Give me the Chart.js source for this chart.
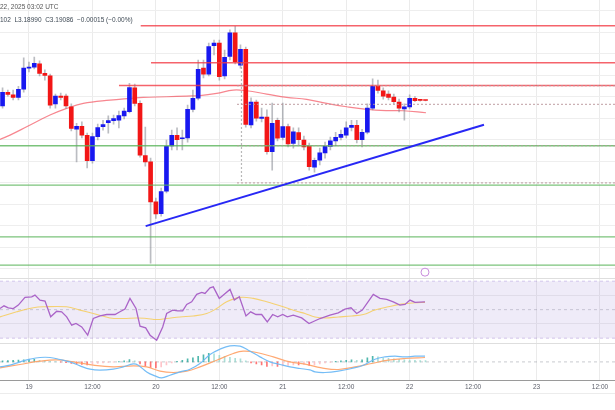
<!DOCTYPE html>
<html>
<head>
<meta charset="utf-8">
<title>XRP/USD 1h</title>
<style>
  html, body { margin: 0; padding: 0; background: #ffffff; }
  .wrap { position: relative; width: 615px; height: 410px; overflow: hidden; font-family: 'Liberation Sans', Arial, sans-serif; }
  .plot { position: absolute; left: 0; top: 0; width: 615px; height: 410px; }
  .legend { position: absolute; left: 0; font-size: 6.5px; color: #555; white-space: nowrap; }
  .time { top: 3px; }
  .ohlc { top: 16px; color: #3f4a55; }
  .bottom-rule { position: absolute; left: 0; right: 0; top: 393px; height: 1px; background: #ececec; }
</style>
<script src="https://cdn.jsdelivr.net/npm/chart.js"></script>
</head>
<body>
<div class="wrap">
  <div class="plot"><canvas id="chart"></canvas></div>
  <div class="legend time">22, 2025 03:02 UTC</div>
  <div class="legend ohlc">102 &nbsp;L3.18990 &nbsp;C3.19086 &nbsp;−0.00015 (−0.00%)</div>
  <div class="bottom-rule"></div>
</div>
<script>
// hourly candles, x = hours since 19 Jan 00:00
const FIRST_HOUR = -6;
const candleOpen = [
  3.153, 3.178, 3.210, 3.204, 3.198, 3.217, 3.266, 3.268, 3.276, 3.254,
  3.248, 3.183, 3.201, 3.201, 3.176, 3.124, 3.131, 3.110, 3.051, 3.107,
  3.130, 3.139, 3.144, 3.145, 3.155, 3.165, 3.220, 3.184, 3.063, 3.048,
  2.955, 2.928, 2.980, 3.085, 3.110, 3.102, 3.104, 3.170, 3.196, 3.266,
  3.252, 3.318, 3.324, 3.248, 3.293, 3.348, 3.273, 3.310, 3.134, 3.187,
  3.149, 3.152, 3.072, 3.145, 3.105, 3.130, 3.091, 3.116, 3.099, 3.085,
  3.036, 3.052, 3.069, 3.084, 3.097, 3.105, 3.110, 3.128, 3.133, 3.100,
  3.117, 3.173, 3.224, 3.213, 3.206, 3.199, 3.187, 3.171, 3.176, 3.196,
  3.1912, 3.19101
];
const candleHigh = [
  3.194, 3.220, 3.215, 3.215, 3.224, 3.290, 3.280, 3.292, 3.283, 3.262,
  3.252, 3.206, 3.208, 3.206, 3.183, 3.138, 3.141, 3.115, 3.115, 3.136,
  3.145, 3.155, 3.157, 3.166, 3.173, 3.231, 3.229, 3.190, 3.129, 3.057,
  2.964, 2.987, 3.099, 3.122, 3.127, 3.122, 3.180, 3.215, 3.285, 3.285,
  3.324, 3.331, 3.331, 3.308, 3.355, 3.363, 3.320, 3.315, 3.197, 3.192,
  3.173, 3.169, 3.185, 3.150, 3.185, 3.136, 3.127, 3.127, 3.108, 3.092,
  3.057, 3.080, 3.094, 3.106, 3.117, 3.122, 3.141, 3.145, 3.145, 3.124,
  3.183, 3.241, 3.238, 3.220, 3.213, 3.206, 3.194, 3.183, 3.204, 3.200,
  3.193, 3.19102
];
const candleLow = [
  3.145, 3.173, 3.201, 3.192, 3.192, 3.210, 3.257, 3.264, 3.248, 3.238,
  3.173, 3.173, 3.192, 3.173, 3.120, 3.048, 3.104, 3.034, 3.045, 3.099,
  3.122, 3.115, 3.136, 3.127, 3.148, 3.162, 3.178, 3.059, 3.038, 2.813,
  2.917, 2.922, 2.976, 3.076, 3.076, 3.076, 3.094, 3.164, 3.192, 3.243,
  3.248, 3.297, 3.238, 3.241, 3.285, 3.276, 3.266, 3.129, 3.127, 3.143,
  3.141, 3.066, 3.029, 3.097, 3.099, 3.083, 3.080, 3.087, 3.076, 3.029,
  3.024, 3.041, 3.057, 3.076, 3.085, 3.099, 3.104, 3.120, 3.092, 3.083,
  3.113, 3.169, 3.208, 3.194, 3.192, 3.183, 3.164, 3.145, 3.171, 3.188,
  3.1895, 3.18990
];
const candleClose = [
  3.188, 3.210, 3.205, 3.198, 3.217, 3.266, 3.267, 3.277, 3.254, 3.249,
  3.180, 3.201, 3.198, 3.178, 3.126, 3.131, 3.110, 3.051, 3.107, 3.128,
  3.135, 3.144, 3.149, 3.156, 3.166, 3.221, 3.184, 3.064, 3.048, 2.955,
  2.927, 2.979, 3.084, 3.110, 3.100, 3.104, 3.170, 3.196, 3.263, 3.252,
  3.316, 3.324, 3.246, 3.291, 3.348, 3.281, 3.310, 3.135, 3.187, 3.150,
  3.152, 3.072, 3.138, 3.103, 3.130, 3.090, 3.118, 3.100, 3.083, 3.037,
  3.052, 3.069, 3.084, 3.097, 3.105, 3.112, 3.127, 3.133, 3.100, 3.117,
  3.173, 3.224, 3.214, 3.201, 3.198, 3.188, 3.173, 3.176, 3.196, 3.1905,
  3.1910, 3.19086
];

const xTickHours = [0, 12, 24, 36, 48, 60, 72, 84, 96, 108];
const xTickLabels = ['19', '12:00', '20', '12:00', '21', '12:00', '22', '12:00', '23', '12:00'];
const priceTicks = [2.80, 2.85, 2.90, 2.95, 3.00, 3.05, 3.10, 3.15, 3.20, 3.25, 3.30, 3.35, 3.40];
const rsiTicks = [40, 60];

// moving average on price [hour, price]
const maPoints = [
  [-5.49, 3.1004], [-3.59, 3.1104], [-0.44, 3.1297], [3.97, 3.1570], [7.13, 3.1725],
  [10.27, 3.1842], [15.32, 3.1918], [19.1, 3.1958], [21.62, 3.1981], [26.04, 3.1995],
  [29.83, 3.2011], [32.34, 3.2023], [35.5, 3.2074], [38.64, 3.2151], [41.18, 3.2135],
  [44.96, 3.2058], [48.74, 3.1981], [52.52, 3.1935], [56.31, 3.1842], [60.09, 3.1763],
  [63.87, 3.1702], [67.66, 3.1674], [70.8, 3.1670], [75.09, 3.1623]
];

// drawn levels
const resistLevels = [3.3646, 3.2786, 3.2256];
const resistStart = [21.13, 23.08, 17.02];
const supportLevels = [3.0856, 2.9942, 2.8739, 2.8081];
const trendPoints = [[22.07, 2.8988], [86.06, 3.1344]];
const rangeLevels = [3.2251, 3.1818, 3.0856, 2.9995];
const rangeStart = 39.34;
const rangeVertical = [[40.19, 3.2779], [40.19, 2.9988]];
const ideaMark = [74.9, 2.7918];

// RSI [hour, value]
const rsiPoints = [
  [-5.49, 50.8], [-4.73, 52.7], [-3.92, 51.3], [-2.97, 50.8], [-2.02, 53.2], [-0.76, 58.6],
  [0.51, 59.0], [1.13, 60.2], [2.08, 56.7], [3.03, 56.0], [4.1, 45.0], [5.24, 48.9],
  [6.18, 48.5], [7.13, 45.0], [8.08, 39.1], [8.89, 40.3], [9.97, 37.9], [11.1, 32.1],
  [12.16, 43.8], [13.43, 45.6], [14.7, 46.6], [16.27, 46.6], [17.2, 48.5], [18.16, 50.4],
  [19.1, 57.9], [20.24, 50.8], [21.0, 38.4], [22.07, 37.2], [22.9, 32.1], [24.15, 28.6],
  [25.29, 37.9], [26.04, 47.3], [27.18, 49.7], [28.13, 49.2], [29.07, 49.2], [29.83, 53.7],
  [30.77, 55.5], [31.72, 60.7], [32.67, 62.1], [33.29, 61.4], [34.24, 65.3], [34.86, 66.0],
  [35.99, 57.9], [36.88, 60.7], [38.02, 64.2], [38.83, 56.7], [39.78, 59.0], [41.04, 45.6],
  [41.93, 48.5], [42.94, 46.6], [44.01, 46.6], [45.07, 41.4], [46.09, 46.6], [47.04, 45.0],
  [47.99, 46.6], [48.86, 45.0], [49.99, 46.1], [51.58, 44.2], [52.96, 40.3], [55.04, 43.8],
  [56.93, 46.1], [58.5, 47.8], [59.77, 50.4], [60.9, 51.3], [61.98, 47.3], [63.04, 49.7],
  [65.12, 60.7], [66.39, 57.9], [67.66, 57.2], [68.9, 55.5], [70.17, 53.2], [71.12, 53.7],
  [72.06, 56.7], [73.0, 55.1], [74.9, 55.5]
];
const rsiMaPoints = [
  [-5.49, 44.9], [-2.33, 48.5], [0.81, 51.3], [2.7, 52.0], [7.13, 52.0], [9.65, 49.7],
  [12.16, 47.3], [15.32, 44.2], [17.84, 43.8], [20.37, 44.2], [22.26, 43.8], [24.15, 43.1],
  [26.04, 43.8], [28.56, 44.9], [31.08, 45.6], [33.61, 47.3], [35.5, 50.8], [37.39, 55.5],
  [39.91, 58.6], [42.43, 57.9], [44.96, 55.5], [48.1, 52.0], [50.63, 48.9], [52.2, 47.3],
  [54.1, 44.9], [55.99, 44.2], [58.5, 44.9], [61.04, 45.6], [63.23, 46.6], [65.44, 49.7],
  [67.96, 52.0], [70.49, 53.9], [73.0, 54.8], [74.9, 55.1]
];

// MACD [hour, value]
const macdPoints = [
  [-5.49, -0.0050], [-3.59, -0.0033], [-1.70, 0.0000], [0.19, 0.0027], [2.08, 0.0044],
  [3.97, 0.0044], [5.86, 0.0024], [7.75, 0.0000], [9.65, -0.0040], [11.54, -0.0073],
  [13.43, -0.0083], [15.94, -0.0073], [17.84, -0.0050], [19.73, -0.0020], [20.67, -0.0033],
  [22.26, -0.0100], [23.83, -0.0140], [25.10, -0.0160], [26.67, -0.0133], [28.56, -0.0100],
  [30.45, -0.0073], [32.34, -0.0016], [34.24, 0.0074], [36.13, 0.0127], [38.02, 0.0160],
  [39.91, 0.0157], [41.48, 0.0117], [43.69, 0.0050], [45.58, 0.0000], [47.47, -0.0026],
  [49.37, -0.0050], [51.26, -0.0066], [53.15, -0.0080], [54.10, -0.0100], [55.99, -0.0106],
  [58.50, -0.0093], [61.04, -0.0066], [63.23, -0.0033], [65.44, 0.0027], [67.33, 0.0050],
  [69.23, 0.0057], [71.12, 0.0050], [73.01, 0.0057], [74.90, 0.0057]
];
const signalPoints = [
  [-5.49, -0.0060], [-1.70, -0.0026], [2.08, 0.0007], [5.24, 0.0020], [8.38, 0.0000],
  [12.16, -0.0033], [15.94, -0.0050], [19.73, -0.0040], [22.26, -0.0050], [24.78, -0.0093],
  [27.29, -0.0106], [29.83, -0.0093], [32.34, -0.0050], [35.50, 0.0017], [38.64, 0.0084],
  [40.53, 0.0107], [43.07, 0.0094], [46.21, 0.0050], [49.37, 0.0000], [52.20, -0.0023],
  [55.36, -0.0060], [58.50, -0.0076], [61.66, -0.0050], [64.82, -0.0016], [67.96, 0.0017],
  [71.12, 0.0034], [74.90, 0.0044]
];
const HIST_FIRST_HOUR = -5;
const histValues = [
  0.0010, 0.0012, 0.0015, 0.0018, 0.0020, 0.0022, 0.0025, 0.0015, 0.0010, 0.0005,
  0.0003, -0.0003, -0.0008, -0.0015, -0.0020, -0.0025, -0.0030, -0.0020, -0.0015, -0.0010,
  -0.0006, -0.0002, 0.0004, 0.0010, 0.0022, 0.0010, -0.0020, -0.0040, -0.0055, -0.0060,
  -0.0050, -0.0030, -0.0010, 0.0005, 0.0015, 0.0030, 0.0040, 0.0055, 0.0070, 0.0085,
  0.0080, 0.0065, 0.0055, 0.0045, 0.0035, 0.0030, 0.0010, -0.0010, -0.0020, -0.0030,
  -0.0045, -0.0040, -0.0045, -0.0040, -0.0035, -0.0030, -0.0030, -0.0025, -0.0035, -0.0030,
  -0.0020, -0.0010, -0.0005, 0.0005, 0.0010, 0.0015, 0.0020, 0.0015, 0.0020, 0.0040,
  0.0055, 0.0050, 0.0040, 0.0035, 0.0030, 0.0025, 0.0020, 0.0018, 0.0015, 0.0014,
  0.0013
];

// visible window of each pane
const X_MIN = -5.485, X_MAX = 110.84;
const PRICE_MIN = 2.7779, PRICE_MAX = 3.4244;
const RSI_MIN = 26.5, RSI_MAX = 72.1;
const MACD_MIN = -0.0183, MACD_MAX = 0.0187;

const BLUE = 'rgb(24,24,240)';
const RED = 'rgb(242,22,22)';
const FONT = "'Liberation Sans', Arial, sans-serif";

const pts = arr => arr.map(([x, y]) => ({x, y}));
const hline = (y, x0, x1) => [{x: x0, y}, {x: x1, y}];
const simpleLine = (data, color, width, extra) => Object.assign({
  type: 'line', data, borderColor: color, borderWidth: width,
  pointRadius: 0, fill: false, yAxisID: 'y'
}, extra || {});

const datasets = [];

// price pane
datasets.push(simpleLine(pts(maPoints), 'rgba(242,54,69,0.6)', 1.2, {tension: 0.4, order: 6}));
datasets.push({
  type: 'bar', yAxisID: 'y', order: 5, grouped: false, barThickness: 1,
  backgroundColor: 'rgba(120,123,134,0.5)',
  data: candleHigh.map((hi, i) => ({x: FIRST_HOUR + i, y: [candleLow[i], hi]}))
});
datasets.push({
  type: 'bar', yAxisID: 'y', order: 4, grouped: false, barThickness: 4, minBarLength: 1,
  backgroundColor: candleClose.map((c, i) => c >= candleOpen[i] ? BLUE : RED),
  data: candleOpen.map((o, i) => ({x: FIRST_HOUR + i, y: [o, candleClose[i]]}))
});
supportLevels.forEach(v => datasets.push(simpleLine(hline(v, X_MIN, X_MAX), 'rgba(90,180,90,0.8)', 1.4, {order: 3})));
resistLevels.forEach((v, i) => datasets.push(simpleLine(hline(v, resistStart[i], X_MAX), 'rgba(242,60,70,0.8)', 1.6, {order: 3})));
rangeLevels.forEach(v => datasets.push(simpleLine(hline(v, rangeStart, X_MAX), 'rgba(185,150,155,0.75)', 1.2, {borderDash: [2, 2], order: 2})));
datasets.push(simpleLine(pts(rangeVertical), 'rgba(160,160,160,0.75)', 1.2, {borderDash: [2, 2], order: 2}));
datasets.push(simpleLine(pts(trendPoints), 'rgb(40,40,245)', 2, {order: 1}));
datasets.push(simpleLine([{x: ideaMark[0], y: ideaMark[1]}], 'rgb(200,140,220)', 1, {
  showLine: false, pointRadius: 4, pointBorderWidth: 1, pointBackgroundColor: '#ffffff', order: 1
}));

// RSI pane
datasets.push(simpleLine(hline(70, X_MIN, X_MAX), 'rgba(126,87,194,0.3)', 1, {
  yAxisID: 'yRsi', borderDash: [3, 3], fill: '+1', backgroundColor: 'rgba(126,87,194,0.12)', order: 9
}));
datasets.push(simpleLine(hline(30, X_MIN, X_MAX), 'rgba(126,87,194,0.3)', 1, {yAxisID: 'yRsi', borderDash: [3, 3], order: 9}));
datasets.push(simpleLine(hline(50, X_MIN, X_MAX), 'rgba(120,123,134,0.35)', 1, {yAxisID: 'yRsi', borderDash: [3, 3], order: 9}));
datasets.push(simpleLine(pts(rsiMaPoints), 'rgba(246,205,90,0.85)', 1.1, {yAxisID: 'yRsi', tension: 0.4, order: 8}));
datasets.push(simpleLine(pts(rsiPoints), 'rgb(170,100,200)', 1.3, {yAxisID: 'yRsi', order: 7}));

// MACD pane
datasets.push(simpleLine(hline(0, X_MIN, X_MAX), 'rgba(120,123,134,0.4)', 1, {yAxisID: 'yMacd', borderDash: [3, 3], order: 9}));
datasets.push({
  type: 'bar', yAxisID: 'yMacd', order: 8, grouped: false, barThickness: 1,
  backgroundColor: histValues.map((v, i) => {
    const prev = i ? histValues[i - 1] : v;
    if (v >= 0) return v >= prev ? 'rgba(38,166,154,0.8)' : 'rgba(150,215,205,0.8)';
    return v <= prev ? 'rgba(255,82,82,0.8)' : 'rgba(255,190,195,0.9)';
  }),
  data: histValues.map((v, i) => ({x: HIST_FIRST_HOUR + i, y: v}))
});
datasets.push(simpleLine(pts(signalPoints), 'rgba(255,160,100,0.9)', 1.2, {yAxisID: 'yMacd', tension: 0.4, order: 7}));
datasets.push(simpleLine(pts(macdPoints), 'rgba(110,185,245,0.95)', 1.2, {yAxisID: 'yMacd', tension: 0.4, order: 6}));

const paneAxis = (min, max, weight, ticks, sepColor) => ({
  type: 'linear', position: 'right', stack: 'panes', stackWeight: weight,
  min, max, beginAtZero: false,
  afterBuildTicks: s => { s.ticks = ticks.map(v => ({value: v})); },
  ticks: {display: false},
  grid: {drawTicks: false, color: ctx => (ctx.tick && ctx.tick.value === max && sepColor) ? sepColor : '#eeeeee'},
  border: {display: false}
});

new Chart(document.getElementById('chart'), {
  type: 'line',
  data: {datasets},
  options: {
    responsive: true,
    maintainAspectRatio: false,
    animation: false,
    layout: {autoPadding: false, padding: {left: 0, right: 0, top: 0, bottom: 16}},
    plugins: {legend: {display: false}, tooltip: {enabled: false}},
    scales: {
      x: {
        type: 'linear', min: X_MIN, max: X_MAX, offset: false,
        afterBuildTicks: s => { s.ticks = xTickHours.map(v => ({value: v})); },
        ticks: {
          autoSkip: false, maxRotation: 0, padding: 3, color: '#5d606b',
          font: {size: 6.5, family: FONT},
          callback: v => xTickLabels[xTickHours.indexOf(v)]
        },
        grid: {color: '#ebebeb', drawTicks: false, offset: false},
        border: {color: '#9a9a9a'}
      },
      y: paneAxis(PRICE_MIN, PRICE_MAX, 278, priceTicks, null),
      yRsi: paneAxis(RSI_MIN, RSI_MAX, 65, rsiTicks.concat([RSI_MAX]), '#dedede'),
      yMacd: paneAxis(MACD_MIN, MACD_MAX, 37, [MACD_MAX], '#dedede')
    }
  }
});
</script>
</body>
</html>
